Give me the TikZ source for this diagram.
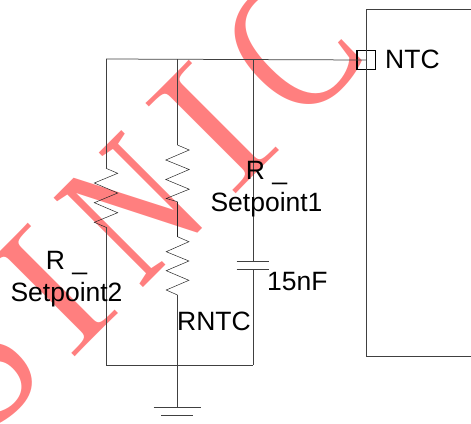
\documentclass[tikz,border=0pt]{standalone}
\usepackage{fontspec}
\newfontfamily\lblfont{Liberation Sans}
\newfontfamily\markfont{Liberation Serif}
\usepackage{xcolor}
\definecolor{markred}{RGB}{255,0,0}
\tikzset{
	wire/.style={line width=0.75pt,black!75},
	zigzag/.style={line width=0.5pt,black!85},
	lbl/.style={inner sep=0pt,font=\lblfont\fontsize{26.5}{32}\selectfont},
	stamp/.style={inner sep=0pt,anchor=base,rotate=45,xscale=#1,transform shape,text=markred,text opacity=0.5,font=\markfont\fontsize{193}{193}\selectfont},
	stampthin/.style={stamp=#1,font=\rmfamily\fontsize{187}{187}\selectfont},
}
\begin{document}
\begin{tikzpicture}[x=1pt,y=-1pt]
	\useasboundingbox (0,0) rectangle (471,423);
	\clip (0,0) rectangle (471,423);
	% baseline runs at 45 degrees, letters placed one by one
	\node[stamp=0.85] (wms) at (20,406) {S};
	\node[stampthin=1.4] (wmi) at (97,335) {I};
	\node[stamp=0.74] (wmn) at (177,254.5) {N};
	\node[stampthin=1.4] (wmj) at (258,172) {I};
	\node[stamp=0.78] (wmc) at (335.5,93) {C};
	% junctions
	\coordinate (tl) at (106,59);
	\coordinate (tm) at (177.5,59);
	\coordinate (tr) at (253,59);
	\coordinate (bl) at (106,365);
	\coordinate (bm) at (177.5,365);
	\coordinate (br) at (253,365);
	\coordinate (gnd) at (177.5,407.5);
	\node[draw,line width=1.2pt,black,minimum size=18.5pt,inner sep=0pt] (pin) at (366.2,60) {};
	\draw[wire] (bl)--(br);
	\draw[wire] (tl)--(pin.center);
	% left resistor
	\coordinate (r2a) at (106,168.3);
	\coordinate (r2b) at (106,227.3);
	\draw[wire] (tl)--(r2a);
	\draw[zigzag] (r2a)--++(11.7,5)--++(-23.4,9.7)--++(23.4,10)--++(-23.4,9.7)--++(23.4,10)--++(-23.4,9.6)--(r2b);
	\draw[wire] (r2b)--(bl);
	% middle branch
	\coordinate (r1a) at (177.5,145);
	\coordinate (r1b) at (177.5,201.7);
	\coordinate (r3a) at (177.5,236.7);
	\coordinate (r3b) at (177.5,295);
	\draw[wire] (tm)--(r1a);
	\draw[zigzag] (r1a)--++(11.7,5)--++(-23.4,10)--++(23.4,9.5)--++(-23.4,10)--++(23.4,9.7)--++(-23,9.3)--(r1b);
	\draw[zigzag] (r1b)--(r3a);
	\draw[zigzag] (r3a)--++(11.4,5)--++(-22.7,10)--++(22.7,9.3)--++(-22.7,9.7)--++(22.7,9.6)--++(-22.7,9.7)--(r3b);
	\draw[wire] (r3b)--(gnd);
	% capacitor
	\coordinate (c1a) at (253,261.7);
	\coordinate (c1b) at (253,269.3);
	\draw[wire] (tr)--(c1a);
	\draw[wire] (c1b)--(br);
	\draw[wire] (236.7,261.7)--(269.3,261.7);
	\draw[wire] (236.7,269.3)--(269.3,269.3);
	% ground
	\draw[wire] (153.7,407.5)--(200.7,407.5);
	\draw[wire] (161,415.7)--(193,415.7);
	% chip outline
	\draw[wire] (471,9.3)--(366.3,9.3)--(366.3,356)--(471,356);
	% labels
	\node[lbl,anchor=base west] (ntc) at (385,68) {NTC};
	\node[lbl,anchor=base,align=center] (rset2) at (66.5,301) {R \_\\Setpoint2};
	\node[lbl,anchor=base,align=center] (rset1) at (266.5,211) {R \_\\Setpoint1};
	\node[lbl,anchor=base west] (cval) at (267,290) {15nF};
	\node[lbl,anchor=base west] (rntc) at (177,330) {RNTC};
\end{tikzpicture}
\end{document}
